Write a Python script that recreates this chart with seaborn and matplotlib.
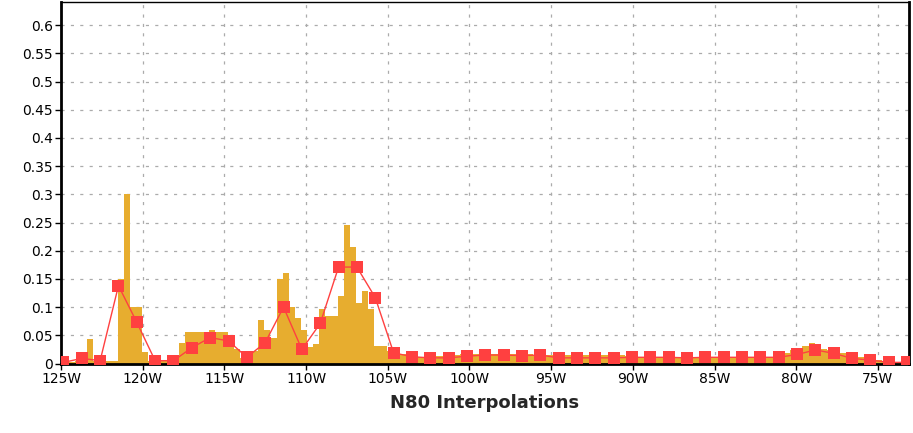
import numpy as np
import pandas as pd
import matplotlib
matplotlib.use("Agg")
import matplotlib.pyplot as plt
import seaborn as sns
from matplotlib.ticker import MultipleLocator, FuncFormatter

# ---------------- data ----------------
# fine-resolution bars (observations), 0.374 deg bins starting near 125W
bar_start = -125.09
bar_step = 0.3742
bar_values = [
    0.003, 0.003, 0.003, 0.004, 0.004,
    0.044,
    0.004, 0.004, 0.004, 0.004,
    0.150, 0.300, 0.100, 0.100, 0.020, 0.005,
    0.005, 0.005, 0.005, 0.005,
    0.037, 0.056, 0.056, 0.056, 0.056, 0.059, 0.056, 0.056, 0.043, 0.025,
    0.010, 0.010, 0.022, 0.077, 0.060, 0.045, 0.150, 0.160, 0.100, 0.080,
    0.060, 0.030, 0.035, 0.096, 0.085, 0.085, 0.120, 0.246, 0.206, 0.108,
    0.129, 0.096, 0.031, 0.031, 0.022, 0.019, 0.016, 0.016, 0.013, 0.012,
    0.012, 0.013, 0.013, 0.013, 0.013, 0.015, 0.016, 0.017, 0.017, 0.017,
    0.017, 0.017, 0.017, 0.017, 0.017, 0.017, 0.017, 0.016, 0.015, 0.015,
    0.015, 0.015, 0.015, 0.015, 0.015, 0.015, 0.015, 0.015, 0.015, 0.015,
    0.015, 0.015, 0.015, 0.014, 0.013, 0.012, 0.012, 0.012, 0.012, 0.012,
    0.012, 0.012, 0.012, 0.012, 0.012, 0.012, 0.012, 0.012, 0.012, 0.012,
    0.012, 0.012, 0.012, 0.012, 0.012, 0.012, 0.012, 0.012,
    0.019, 0.019, 0.024, 0.026, 0.031, 0.037, 0.029, 0.026, 0.024, 0.022,
    0.019, 0.018, 0.016, 0.012, 0.011, 0.008, 0.006, 0.003, 0.002, 0.002, 0.002,
]

# model grid points (N80 interpolation), ~1.12 deg spacing
pt_start = -124.85
pt_step = 1.1225
pt_values = [
    0.002, 0.009, 0.005, 0.138, 0.073, 0.005, 0.005, 0.028, 0.046, 0.040,
    0.011, 0.037, 0.100, 0.025, 0.071, 0.171, 0.171, 0.117, 0.019, 0.012,
    0.010, 0.010, 0.013, 0.015, 0.015, 0.014, 0.015, 0.010, 0.010, 0.010,
    0.010, 0.011, 0.011, 0.011, 0.010, 0.011, 0.011, 0.011, 0.011, 0.011,
    0.016, 0.024, 0.018, 0.009, 0.006, 0.002, 0.002,
]

x_ticks = [-125, -120, -115, -110, -105, -100, -95, -90, -85, -80, -75]
y_ticks = [0, 0.05, 0.1, 0.15, 0.2, 0.25, 0.3, 0.35, 0.4, 0.45, 0.5, 0.55, 0.6]
x_label = "N80 Interpolations"

bar_lon = np.round(bar_start + bar_step * np.arange(len(bar_values)), 4)
pt_lon = pt_start + pt_step * np.arange(len(pt_values))

bars_df = pd.DataFrame({"lon": bar_lon, "val": bar_values})
pts_df = pd.DataFrame({"lon": pt_lon, "val": pt_values})

# ---------------- style ----------------
sns.set_theme(style="white")
plt.rcParams["font.family"] = ["DejaVu Sans"]

BAR_COLOR = "#E7AD2F"
RED = "#FF4040"
GRID = "#ababab"

fig = plt.figure(figsize=(9.13, 4.33), dpi=100)
ax = fig.add_axes([61 / 913, 1 - 363.5 / 433, 848 / 913, 361.5 / 433])

sns.barplot(data=bars_df, x="lon", y="val", native_scale=True, width=1.0,
            color=BAR_COLOR, saturation=1, edgecolor="none", linewidth=0,
            errorbar=None, ax=ax, zorder=2)

sns.lineplot(data=pts_df, x="lon", y="val", color=RED, linewidth=1.0,
             marker="s", markersize=9, markeredgewidth=0,
             markerfacecolor=RED, ax=ax, zorder=3)

ax.set_xlim(-125, -73.1)
ax.set_ylim(0, 0.641)
ax.set_xticks(x_ticks)
ax.set_yticks(y_ticks)
ax.xaxis.set_major_formatter(FuncFormatter(lambda v, p: f"{int(round(-v))}W"))
ax.yaxis.set_major_formatter(FuncFormatter(lambda v, p: f"{v:g}"))
ax.xaxis.set_minor_locator(MultipleLocator(1))

ax.set_axisbelow(True)
ax.grid(True, which="major", color=GRID, linestyle=(0, (2.5, 5)), linewidth=0.9)

for side in ["left", "bottom", "right"]:
    ax.spines[side].set_visible(True)
    ax.spines[side].set_color("black")
    ax.spines[side].set_linewidth(2)
ax.spines["top"].set_visible(True)
ax.spines["top"].set_color("black")
ax.spines["top"].set_linewidth(1)

ax.tick_params(axis="both", which="major", direction="out", length=4,
               width=1, color="black", labelsize=10, labelcolor="black", pad=2,
               bottom=True, left=True)
ax.tick_params(axis="x", which="minor", direction="in", length=3, width=1,
               color="white", bottom=True)

ax.set_ylabel("")
ax.set_xlabel(x_label, fontsize=13, fontweight="bold", labelpad=6)

fig.savefig("out.png", dpi=100)
